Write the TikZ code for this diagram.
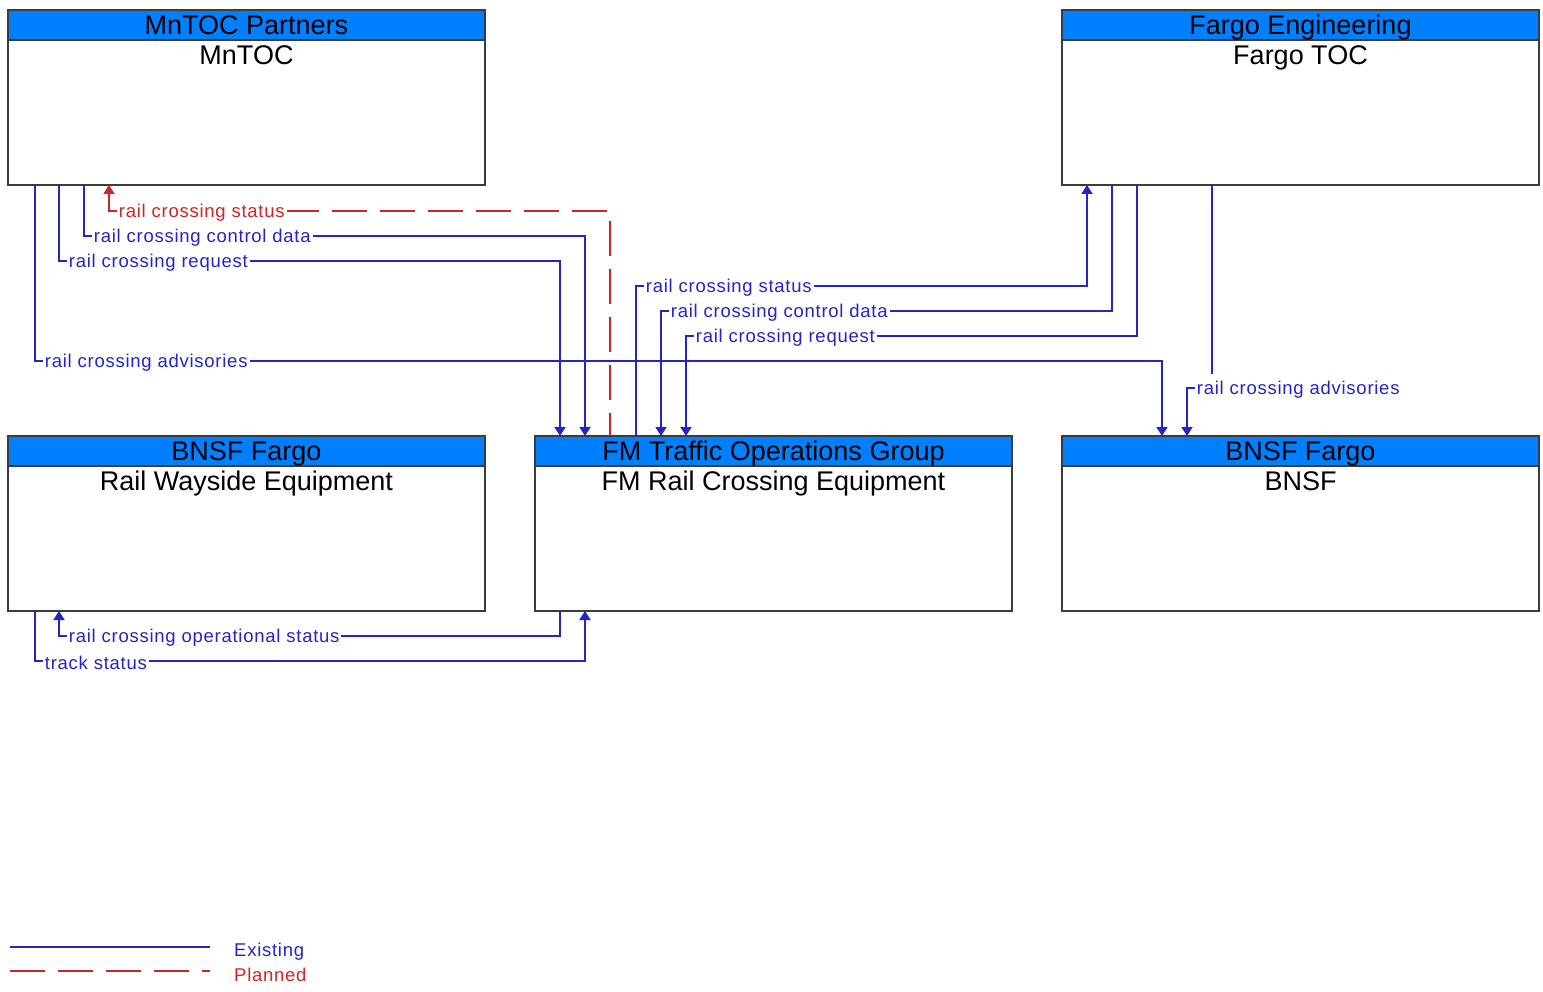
\documentclass[tikz,border=0pt]{standalone}
\usepackage{fontspec}
\setmainfont{Liberation Sans}
\newfontfamily\lblfont[LetterSpace=4]{Liberation Sans}
\usetikzlibrary{arrows.meta,calc}
\definecolor{hdrblue}{RGB}{0,128,255}
\definecolor{exblue}{RGB}{36,36,200}
\definecolor{plred}{RGB}{210,36,36}
\definecolor{frame}{RGB}{60,60,60}
\tikzset{
  boxframe/.style={fill=white,minimum width=477pt,minimum height=175pt,inner sep=0pt,outer sep=0pt},
  boxline/.style={draw=frame,line width=1.8pt},
  hdrtext/.style={font=\fontsize{27}{29}\selectfont,inner sep=0pt,anchor=base},
  titletext/.style={font=\fontsize{27}{29}\selectfont,inner sep=0pt,anchor=base},
  ex/.style={draw=exblue,line width=1.8pt},
  pl/.style={draw=plred,line width=1.8pt,dash pattern=on 35pt off 13pt},
  tip/.style={-{Triangle[width=11pt,length=9pt]}},
  rtip/.style={{Triangle[width=11pt,length=9pt]}-},
  lbl/.style={font=\lblfont\fontsize{18.5}{20}\selectfont,text=exblue,fill=white,inner xsep=2pt,inner ysep=1pt,anchor=west,xshift=7pt,yshift=-1.5pt},
  plbl/.style={lbl,text=plred},
  legtext/.style={font=\lblfont\fontsize{18.5}{20}\selectfont,anchor=west,inner sep=0pt}
}
\newcommand\umbox[5]{%
  \node[boxframe,anchor=north west] (#1) at (#2,#3) {};
  \fill[hdrblue] (#1.north west) rectangle ([yshift=-30pt]#1.north east);
  \draw[boxline] ([yshift=-30pt]#1.north west) -- ([yshift=-30pt]#1.north east);
  \draw[boxline] (#1.north west) rectangle (#1.south east);
  \node[hdrtext] (#1-h) at ([yshift=-24.5pt]#1.north) {#4};
  \node[titletext] (#1-t) at ([yshift=-54.5pt]#1.north) {#5};
}
\begin{document}
\begin{tikzpicture}[x=1pt,y=1pt]
\useasboundingbox (0,0) rectangle (1543,-992);
\umbox{mntoc}{8}{-10}{MnTOC Partners}{MnTOC}
\umbox{fargo}{1062}{-10}{Fargo Engineering}{Fargo TOC}
\umbox{rw}{8}{-436}{BNSF Fargo}{Rail Wayside Equipment}
\umbox{fm}{535}{-436}{FM Traffic Operations Group}{FM Rail Crossing Equipment}
\umbox{bnsf}{1062}{-436}{BNSF Fargo}{BNSF}

% MnTOC <-> FM / BNSF
\draw[ex,tip] ([xshift=27pt]mntoc.south west) -- ++(0,-176) node[lbl] {rail crossing advisories} -| ([xshift=100pt]bnsf.north west);
\draw[ex,tip] ([xshift=51pt]mntoc.south west) -- ++(0,-76) node[lbl] {rail crossing request} -| ([xshift=25pt]fm.north west);
\draw[ex,tip] ([xshift=76pt]mntoc.south west) -- ++(0,-51) node[lbl] {rail crossing control data} -| ([xshift=50pt]fm.north west);
\draw[pl,rtip] ([xshift=101pt]mntoc.south west) -- ++(0,-26) node[plbl] {rail crossing status} -| ([xshift=75pt]fm.north west);

% Fargo TOC <-> FM / BNSF
\draw[ex,tip] ([xshift=101pt]fm.north west) -- ++(0,150) node[lbl] {rail crossing status} -| ([xshift=25pt]fargo.south west);
\draw[ex,rtip] ([xshift=126pt]fm.north west) -- ++(0,125) node[lbl] {rail crossing control data} -| ([xshift=50pt]fargo.south west);
\draw[ex,rtip] ([xshift=151pt]fm.north west) -- ++(0,100) node[lbl] {rail crossing request} -| ([xshift=75pt]fargo.south west);
\draw[ex,rtip] ([xshift=125pt]bnsf.north west) -- ++(0,48) node[lbl,inner ysep=7pt] {rail crossing advisories} -| ([xshift=150pt]fargo.south west);

% Rail Wayside <-> FM
\draw[ex,rtip] ([xshift=51pt]rw.south west) -- ++(0,-25) node[lbl] {rail crossing operational status} -| ([xshift=25pt]fm.south west);
\draw[ex,tip] ([xshift=27pt]rw.south west) -- ++(0,-50) node[lbl] {track status} -| ([xshift=50pt]fm.south west);

% legend
\coordinate (le1) at (10,-947);
\coordinate (le2) at (210,-947);
\coordinate (lp1) at (10,-971);
\coordinate (lp2) at (210,-971);
\draw[ex] (le1) -- (le2);
\draw[pl] (lp1) -- (lp2);
\node[legtext,text=exblue] (legex) at (234,-952) {Existing};
\node[legtext,text=plred] (legpl) at (234,-975) {Planned};
\end{tikzpicture}
\end{document}
